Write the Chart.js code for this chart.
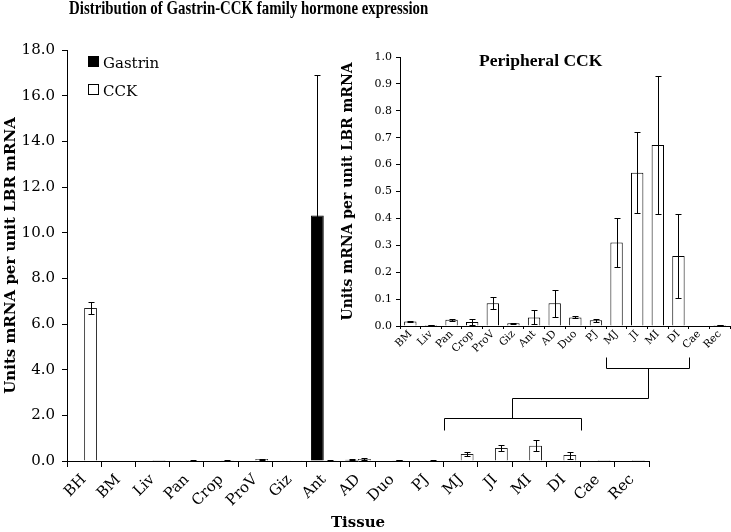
<!DOCTYPE html>
<html>
<head>
<meta charset="utf-8">
<script src="https://cdn.jsdelivr.net/npm/chart.js@4.4.1/dist/chart.umd.min.js"></script>
<style>
  html, body { margin: 0; padding: 0; background: #fff; }
  #wrap { position: relative; width: 731px; height: 532px; overflow: hidden; font-family: "DejaVu Serif", serif; color: #000; }
  #mainChart { position: absolute; left: 0; top: 0; }
  #insetChart { position: absolute; left: 340px; top: 40px; }
  .fit { position: absolute; white-space: nowrap; font-weight: bold; font-family: "Liberation Serif", serif; transform-origin: center center; }
  #title { top: -3px; font-size: 19px; }
  #insetTitle { top: 51px; font-size: 17px; }
  #legend { position: absolute; left: 88px; top: 49px; font-size: 15px; line-height: 28px; }
  #legend .sw { display: inline-block; width: 9px; height: 9px; border: 1px solid #000; margin-right: 4px; vertical-align: 1px; }
</style>
</head>
<body>
<div id="wrap">
  <canvas id="mainChart" width="731" height="532"></canvas>
  <canvas id="insetChart" width="391" height="320"></canvas>
  <div id="title" class="fit">Distribution of Gastrin-CCK family hormone expression</div>
  <div id="insetTitle" class="fit">Peripheral CCK</div>
  <div id="legend"></div>
</div>
<script>
const tissues = ['BH', 'BM', 'Liv', 'Pan', 'Crop', 'ProV', 'Giz', 'Ant', 'AD', 'Duo', 'PJ', 'MJ', 'JI', 'MI', 'DI', 'Cae', 'Rec'];
const gastrin    = [0, 0, 0, 0, 0, 0, 0, 10.75, 0.06, 0, 0, 0, 0, 0, 0, 0, 0];
const gastrinErr = [0, 0, 0, 0, 0, 0, 0, 6.15, 0.02, 0, 0, 0, 0, 0, 0, 0, 0];
const cck    = [6.7, 0.017, 0.004, 0.023, 0.015, 0.085, 0.010, 0.032, 0.085, 0.032, 0.021, 0.31, 0.57, 0.673, 0.26, 0.002, 0.004];
const cckErr = [0.28, 0.002, 0.001, 0.003, 0.010, 0.021, 0.002, 0.026, 0.050, 0.004, 0.006, 0.09, 0.15, 0.255, 0.155, 0, 0.001];

// inset shows everything except brain (BH)
const peripheral = tissues.slice(1);
const periCck = cck.slice(1);
const periErr = cckErr.slice(1);

const mainTicks = [0, 2, 4, 6, 8, 10, 12, 14, 16, 18];
const insetTicks = [0, 0.1, 0.2, 0.3, 0.4, 0.5, 0.6, 0.7, 0.8, 0.9, 1.0];
const bracketGroup = ['MJ', 'DI'];

Chart.defaults.font.family = '"DejaVu Serif", serif';
Chart.defaults.color = '#000';

const errorBars = {
    id: 'errorBars',
    afterDatasetsDraw(chart, args, opts) {
        const { ctx, scales: { y } } = chart;
        ctx.save();
        ctx.strokeStyle = '#000';
        ctx.lineWidth = 1;
        chart.data.datasets.forEach((ds, di) => {
            if (!ds.errors) return;
            chart.getDatasetMeta(di).data.forEach((bar, i) => {
                const e = ds.errors[i];
                if (!e) return;
                const v = ds.data[i];
                const x = Math.round(bar.x) + 0.5;
                const top = Math.round(y.getPixelForValue(v + e)) + 0.5;
                const bot = Math.round(y.getPixelForValue(Math.max(v - e, 0))) + 0.5;
                const c = opts.cap;
                ctx.beginPath();
                ctx.moveTo(x, top); ctx.lineTo(x, bot);
                ctx.moveTo(x - c, top); ctx.lineTo(x + c, top);
                ctx.moveTo(x - c, bot); ctx.lineTo(x + c, bot);
                ctx.stroke();
            });
        });
        ctx.restore();
    }
};

function plainAxis(tickLen) {
    return {
        grid: { display: true, drawOnChartArea: false, drawTicks: true, tickLength: tickLen, color: '#000' },
        border: { display: true, color: '#000', width: 1 }
    };
}

// ---- inset: peripheral CCK ----
const insetChart = new Chart(document.getElementById('insetChart'), {
    type: 'bar',
    plugins: [errorBars],
    data: {
        labels: peripheral,
        datasets: [{
            label: 'CCK',
            data: periCck,
            errors: periErr,
            backgroundColor: '#fff',
            borderColor: '#000',
            borderWidth: 1,
            categoryPercentage: 1,
            barPercentage: 0.6
        }]
    },
    options: {
        responsive: false,
        devicePixelRatio: 1,
        animation: false,
        layout: { padding: { left: 0, top: 17, right: 1, bottom: 0 } },
        plugins: { legend: { display: false }, tooltip: { enabled: false }, errorBars: { cap: 3 } },
        scales: {
            x: {
                ...plainAxis(3),
                ticks: { font: { size: 10.5 }, minRotation: 45, maxRotation: 45, padding: -1, autoSkip: false },
                afterFit: s => { s.height = 34; }
            },
            y: {
                ...plainAxis(4),
                min: 0, max: 1,
                afterBuildTicks: s => { s.ticks = insetTicks.map(v => ({ value: v })); },
                ticks: { font: { size: 11 }, padding: 4, callback: v => v.toFixed(1) },
                title: { display: true, text: 'Units mRNA per unit LBR mRNA', font: { size: 14, weight: 'bold' }, padding: { top: 0, bottom: 1 } },
                afterFit: s => { s.width = 60; }
            }
        }
    }
});

// bracket linking the intestinal bars of both panels
const bracket = {
    id: 'bracket',
    afterDraw(chart) {
        const { ctx, scales: { x, y } } = chart;
        const ix = insetChart.scales.x;
        const ox = 340;
        const a = tissues.indexOf(bracketGroup[0]), b = tissues.indexOf(bracketGroup[1]);
        const mw = x.getPixelForValue(1) - x.getPixelForValue(0);
        const iw = ix.getPixelForValue(1) - ix.getPixelForValue(0);
        const mL = x.getPixelForValue(a) - mw / 2, mR = x.getPixelForValue(b) + mw / 2;
        const iL = ox + ix.getPixelForValue(a - 1) - iw / 2, iR = ox + ix.getPixelForValue(b - 1) + iw / 2;
        const py = v => Math.round(y.getPixelForValue(v)) + 0.5;
        const px = v => Math.round(v) + 0.5;
        const yTip = py(4.56), yBar = py(4.07), yMid = py(2.76), yLow = py(1.88), yEnd = py(1.36);
        const iC = px((iL + iR) / 2), mC = px((mL + mR) / 2);
        ctx.save();
        ctx.strokeStyle = '#000';
        ctx.lineWidth = 1;
        ctx.beginPath();
        ctx.moveTo(px(iL), yTip); ctx.lineTo(px(iL), yBar); ctx.lineTo(px(iR), yBar); ctx.lineTo(px(iR), yTip);
        ctx.moveTo(iC, yBar); ctx.lineTo(iC, yMid); ctx.lineTo(mC, yMid); ctx.lineTo(mC, yLow);
        ctx.moveTo(px(mL), yEnd); ctx.lineTo(px(mL), yLow); ctx.lineTo(px(mR), yLow); ctx.lineTo(px(mR), yEnd);
        ctx.stroke();
        ctx.restore();
    }
};

// ---- main chart ----
const mainChart = new Chart(document.getElementById('mainChart'), {
    type: 'bar',
    plugins: [errorBars, bracket],
    data: {
        labels: tissues,
        datasets: [{
            label: 'Gastrin',
            data: gastrin,
            errors: gastrinErr,
            backgroundColor: '#000',
            borderColor: '#000',
            borderWidth: 1
        }, {
            label: 'CCK',
            data: cck,
            errors: cckErr,
            backgroundColor: '#fff',
            borderColor: '#222',
            borderWidth: 1
        }]
    },
    options: {
        responsive: false,
        devicePixelRatio: 1,
        animation: false,
        datasets: { bar: { categoryPercentage: 0.75, barPercentage: 1 } },
        layout: { padding: { left: 0, top: 50, right: 82, bottom: 0 } },
        plugins: { legend: { display: false }, tooltip: { enabled: false }, errorBars: { cap: 3 } },
        scales: {
            x: {
                ...plainAxis(6),
                ticks: { font: { size: 15 }, minRotation: 45, maxRotation: 45, padding: 4, autoSkip: false },
                title: { display: true, text: 'Tissue', font: { size: 15, weight: 'bold' }, padding: { top: 0, bottom: 0 } },
                afterFit: s => { s.height = 71; }
            },
            y: {
                ...plainAxis(5),
                min: 0, max: 18,
                afterBuildTicks: s => { s.ticks = mainTicks.map(v => ({ value: v })); },
                ticks: { font: { size: 15 }, padding: 7, callback: v => v.toFixed(1) },
                title: { display: true, text: 'Units mRNA per unit LBR mRNA', font: { size: 15, weight: 'bold' }, padding: { top: 2, bottom: 0 } },
                afterFit: s => { s.width = 67; }
            }
        }
    }
});

// legend built from the main chart datasets
document.getElementById('legend').innerHTML = mainChart.data.datasets.map(ds =>
    `<div><span class="sw" style="background:${ds.backgroundColor}"></span>${ds.label}</div>`).join('');

// squeeze the bold titles to the width they take in the figure
function fitText(id, width, cx) {
    const el = document.getElementById(id);
    const w = el.offsetWidth;
    el.style.left = (cx - w / 2) + 'px';
    el.style.transform = `scaleX(${width / w})`;
}
fitText('title', 359, 248);
fitText('insetTitle', 123, 540);
</script>
</body>
</html>
